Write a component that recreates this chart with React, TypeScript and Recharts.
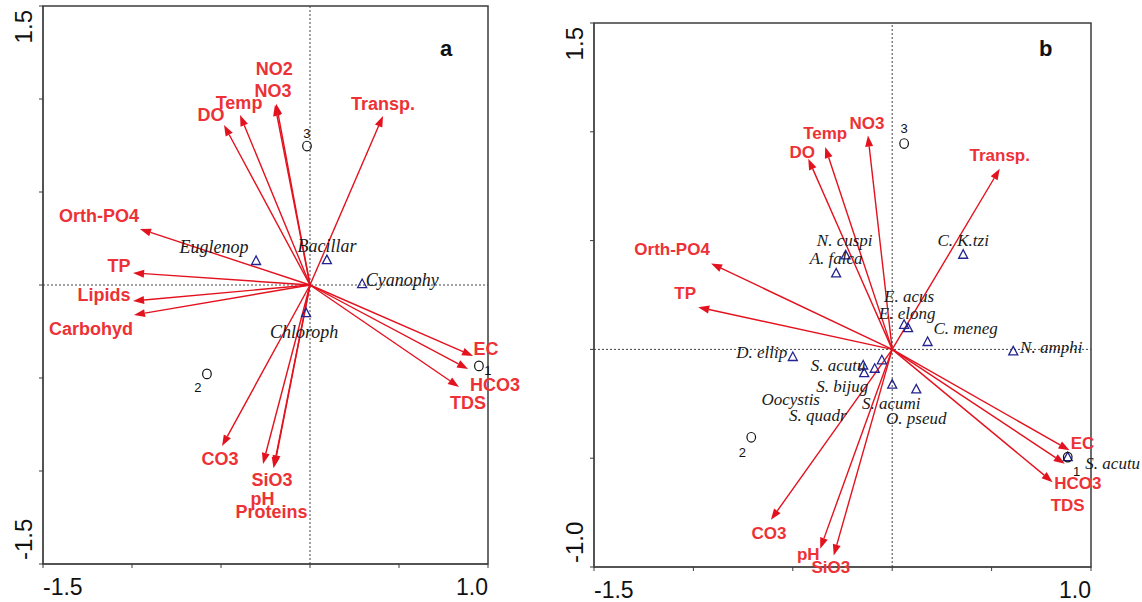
import React from 'react';
import {
  ScatterChart,
  Scatter,
  XAxis,
  YAxis,
  ReferenceLine,
  ReferenceArea,
} from 'recharts';

// ---- panel a ----
const A_VARS = ['DO', 'Temp', 'NO2', 'NO3', 'Transp.', 'Orth-PO4', 'TP', 'Lipids', 'Carbohyd', 'EC', 'HCO3', 'TDS', 'CO3', 'SiO3', 'pH', 'Proteins'];
const A_VAR_X = [-0.483, -0.393, -0.19, -0.197, 0.41, -0.955, -0.994, -0.994, -0.989, 0.916, 0.888, 0.837, -0.494, -0.264, -0.2, -0.205];
const A_VAR_Y = [0.86, 0.914, 0.975, 0.968, 0.909, 0.301, 0.065, -0.086, -0.161, -0.382, -0.452, -0.548, -0.866, -0.962, -0.975, -0.985];
const A_SPECIES = ['Euglenop', 'Bacillar', 'Cyanophy', 'Chloroph'];
const A_SPECIES_X = [-0.303, 0.095, 0.293, -0.022];
const A_SPECIES_Y = [0.129, 0.134, 0.005, -0.151];
const A_SAMPLES = ['1', '2', '3'];
const A_SAMPLE_X = [0.949, -0.579, -0.017];
const A_SAMPLE_Y = [-0.435, -0.478, 0.747];
const A_Y_TICKS = [-1.5, -1, -0.5, 0, 0.5, 1, 1.5];

// ---- panel b ----
const B_VARS = ['NO3', 'Temp', 'DO', 'Transp.', 'Orth-PO4', 'TP', 'EC', 'HCO3', 'TDS', 'CO3', 'pH', 'SiO3'];
const B_VAR_X = [-0.122, -0.337, -0.422, 0.541, -0.911, -0.976, 0.892, 0.868, 0.807, -0.61, -0.362, -0.294];
const B_VAR_Y = [0.983, 0.93, 0.876, 0.83, 0.395, 0.194, -0.464, -0.525, -0.61, -0.783, -0.916, -0.947];
const B_SPECIES = ['N. cuspi', 'A. falca', 'C. K.tzi', 'E. acus', 'E. elong', 'C. meneg', 'N. amphi', 'D. ellip', 'S. acutu', 'S. bijug', 'Oocystis', 'S. quadr', 'S. acumi', 'O. pseud', 'S. acutu'];
const B_SPECIES_X = [-0.234, -0.282, 0.357, 0.06, 0.08, 0.178, 0.609, -0.5, -0.146, -0.141, -0.088, -0.052, 0.0, 0.121, 0.883];
const B_SPECIES_Y = [0.432, 0.349, 0.435, 0.113, 0.098, 0.034, -0.009, -0.035, -0.074, -0.109, -0.089, -0.05, -0.162, -0.184, -0.495];
const B_SAMPLES = ['1', '2', '3'];
const B_SAMPLE_X = [0.883, -0.709, 0.06];
const B_SAMPLE_Y = [-0.495, -0.404, 0.946];
const B_Y_TICKS = [-1, -0.5, 0, 0.5, 1, 1.5];

const X_TICKS = [-1.5, -1, -0.5, 0, 0.5, 1];

// label placement, in pixels from the point
const A_VAR_OFFSETS = [[-13, -10], [-1, -12], [-2, -35], [-2, -14], [0, -12], [-41, -13], [-14, -7], [-29, -6], [-43, 14], [13, -7], [27, 16], [9, 16], [-2, 13], [9, 16], [-12, 32], [-2, 43]];
const A_SPECIES_OFFSETS = [[-42, -14], [0, -14], [40, -4], [-2, 19]];
const A_SAMPLE_OFFSETS = [[9, 5], [-9, 14], [0, -13]];
const B_VAR_OFFSETS = [[-1, -12], [0, -14], [-6, -7], [0, -14], [-39, -14], [-13, -14], [13, -7], [13, 19], [15, 23], [-2, 13], [-12, 5], [-3, 12]];
const B_SPECIES_OFFSETS = [[-1, -15], [0, -15], [0, -15], [5, -29], [-1, -15], [38, -14], [38, -4], [-31, -5], [-25, 0], [-22, 13], [-84, 30], [-64, 55], [-1, 18], [0, 29], [45, 6]];
const B_SAMPLE_OFFSETS = [[9, 14], [-9, 15], [0, -15]];

const SANS = '"Liberation Sans", Arial, sans-serif';
const SERIF = '"Liberation Serif", "Times New Roman", serif';
const ARROW = '#e3121f';
const LABEL_RED = '#ec3237';
const NAVY = '#232390';
const FRAME = '#3c3c3c';

type Pt = { name: string; x: number; y: number; dx: number; dy: number };

const build = (names: string[], xs: number[], ys: number[], offs: number[][]): Pt[] =>
  names.map((name, i) => ({ name, x: xs[i], y: ys[i], dx: offs[i][0], dy: offs[i][1] }));

const ArrowShape = (p: any) => {
  const { x1, y1, x2, y2 } = p;
  const vx = x2 - x1;
  const vy = y2 - y1;
  const len = Math.hypot(vx, vy) || 1;
  const ux = vx / len;
  const uy = vy / len;
  const L = 11;
  const W = 4;
  const bx = x2 - ux * L;
  const by = y2 - uy * L;
  return (
    <g>
      <line x1={x1} y1={y1} x2={bx} y2={by} stroke={ARROW} strokeWidth={1.4} />
      <polygon
        points={`${x2},${y2} ${bx - uy * W},${by + ux * W} ${bx + uy * W},${by - ux * W}`}
        fill={ARROW}
      />
    </g>
  );
};

interface PanelProps {
  vars: Pt[];
  species: Pt[];
  samples: Pt[];
  yMin: number;
  yTicks: number[];
  width: number;
  yAxisWidth: number;
  marginTop: number;
  marginRight: number;
  xAxisHeight: number;
  varFont: number;
  speciesFont: number;
}

const Panel: React.FC<PanelProps> = ({
  vars, species, samples, yMin, yTicks, width, yAxisWidth, marginTop, marginRight, xAxisHeight, varFont, speciesFont,
}) => {
  const XTick = ({ x, y, payload }: any) => {
    const v = payload.value;
    if (v !== -1.5 && v !== 1) return <g />;
    return (
      <text x={x} y={y + 25} textAnchor={v === -1.5 ? 'start' : 'end'} fontSize={23} fill="#111" fontFamily={SANS}>
        {v.toFixed(1)}
      </text>
    );
  };
  const YTick = ({ x, y, payload }: any) => {
    const v = payload.value;
    if (v !== 1.5 && v !== yMin) return <g />;
    const bx = x - 5;
    const top = v === 1.5;
    const ty = top ? y + 4 : y - 4;
    return (
      <text
        x={bx}
        y={ty}
        transform={`rotate(-90, ${bx}, ${ty})`}
        textAnchor={top ? 'end' : 'start'}
        fontSize={24}
        fill="#111"
        fontFamily={SANS}
      >
        {v.toFixed(1)}
      </text>
    );
  };

  return (
    <ScatterChart
      width={width}
      height={602}
      margin={{ top: marginTop, right: marginRight, bottom: 0, left: 0 }}
      style={{ overflow: 'visible' }}
    >
      <XAxis
        type="number"
        dataKey="x"
        domain={[-1.5, 1]}
        ticks={X_TICKS}
        interval={0}
        height={xAxisHeight}
        tickSize={4}
        tickMargin={2}
        stroke={FRAME}
        tick={<XTick />}
      />
      <YAxis
        type="number"
        dataKey="y"
        domain={[yMin, 1.5]}
        ticks={yTicks}
        interval={0}
        width={yAxisWidth}
        tickSize={4}
        tickMargin={2}
        stroke={FRAME}
        tick={<YTick />}
      />
      <ReferenceArea x1={-1.5} x2={1} y1={yMin} y2={1.5} fill="none" stroke={FRAME} strokeWidth={1.5} ifOverflow="visible" />
      <ReferenceLine x={0} stroke="#444" strokeDasharray="2 2" />
      <ReferenceLine y={0} stroke="#444" strokeDasharray="2 2" />
      {vars.map((v) => (
        <ReferenceLine
          key={v.name}
          segment={[{ x: 0, y: 0 }, { x: v.x, y: v.y }]}
          ifOverflow="visible"
          shape={ArrowShape}
        />
      ))}
      <Scatter
        data={vars}
        isAnimationActive={false}
        shape={(p: any) => (
          <text
            x={p.cx + p.payload.dx}
            y={p.cy + p.payload.dy}
            dy="0.35em"
            textAnchor="middle"
            fontSize={varFont}
            fontWeight="bold"
            fill={LABEL_RED}
            fontFamily={SANS}
          >
            {p.payload.name}
          </text>
        )}
      />
      <Scatter
        data={species}
        isAnimationActive={false}
        shape={(p: any) => (
          <g>
            <polygon
              points={`${p.cx},${p.cy - 5} ${p.cx - 4.5},${p.cy + 3.5} ${p.cx + 4.5},${p.cy + 3.5}`}
              fill="none"
              stroke={NAVY}
              strokeWidth={1.3}
            />
            <text
              x={p.cx + p.payload.dx}
              y={p.cy + p.payload.dy}
              dy="0.35em"
              textAnchor="middle"
              fontSize={speciesFont}
              fontStyle="italic"
              fill="#1a1a1a"
              fontFamily={SERIF}
            >
              {p.payload.name}
            </text>
          </g>
        )}
      />
      <Scatter
        data={samples}
        isAnimationActive={false}
        shape={(p: any) => (
          <g>
            <ellipse cx={p.cx} cy={p.cy} rx={4.3} ry={4.8} fill="none" stroke="#111" strokeWidth={1.2} />
            <text
              x={p.cx + p.payload.dx}
              y={p.cy + p.payload.dy}
              dy="0.35em"
              textAnchor="middle"
              fontSize={13}
              fill="#111"
              fontFamily={SANS}
            >
              {p.payload.name}
            </text>
          </g>
        )}
      />
    </ScatterChart>
  );
};

const App: React.FC = () => {
  const aVars = build(A_VARS, A_VAR_X, A_VAR_Y, A_VAR_OFFSETS);
  const aSpecies = build(A_SPECIES, A_SPECIES_X, A_SPECIES_Y, A_SPECIES_OFFSETS);
  const aSamples = build(A_SAMPLES, A_SAMPLE_X, A_SAMPLE_Y, A_SAMPLE_OFFSETS);
  const bVars = build(B_VARS, B_VAR_X, B_VAR_Y, B_VAR_OFFSETS);
  const bSpecies = build(B_SPECIES, B_SPECIES_X, B_SPECIES_Y, B_SPECIES_OFFSETS);
  const bSamples = build(B_SAMPLES, B_SAMPLE_X, B_SAMPLE_Y, B_SAMPLE_OFFSETS);

  const letter: React.CSSProperties = {
    position: 'absolute',
    fontFamily: SANS,
    fontWeight: 'bold',
    fontSize: 22,
    color: '#111',
    lineHeight: 1,
  };

  return (
    <div style={{ position: 'absolute', left: 0, top: 0, width: 1142, height: 602, background: '#fff', overflow: 'hidden' }}>
      <div style={{ position: 'absolute', left: 0, top: 0 }}>
        <Panel
          vars={aVars}
          species={aSpecies}
          samples={aSamples}
          yMin={-1.5}
          yTicks={A_Y_TICKS}
          width={560}
          yAxisWidth={43}
          marginTop={6}
          marginRight={72}
          xAxisHeight={38}
          varFont={18}
          speciesFont={18}
        />
      </div>
      <div style={{ position: 'absolute', left: 560, top: 0 }}>
        <Panel
          vars={bVars}
          species={bSpecies}
          samples={bSamples}
          yMin={-1}
          yTicks={B_Y_TICKS}
          width={582}
          yAxisWidth={34}
          marginTop={23}
          marginRight={51}
          xAxisHeight={35}
          varFont={17}
          speciesFont={17}
        />
      </div>
      <div style={{ ...letter, left: 440, top: 38 }}>a</div>
      <div style={{ ...letter, left: 1039, top: 38 }}>b</div>
    </div>
  );
};

export default App;
